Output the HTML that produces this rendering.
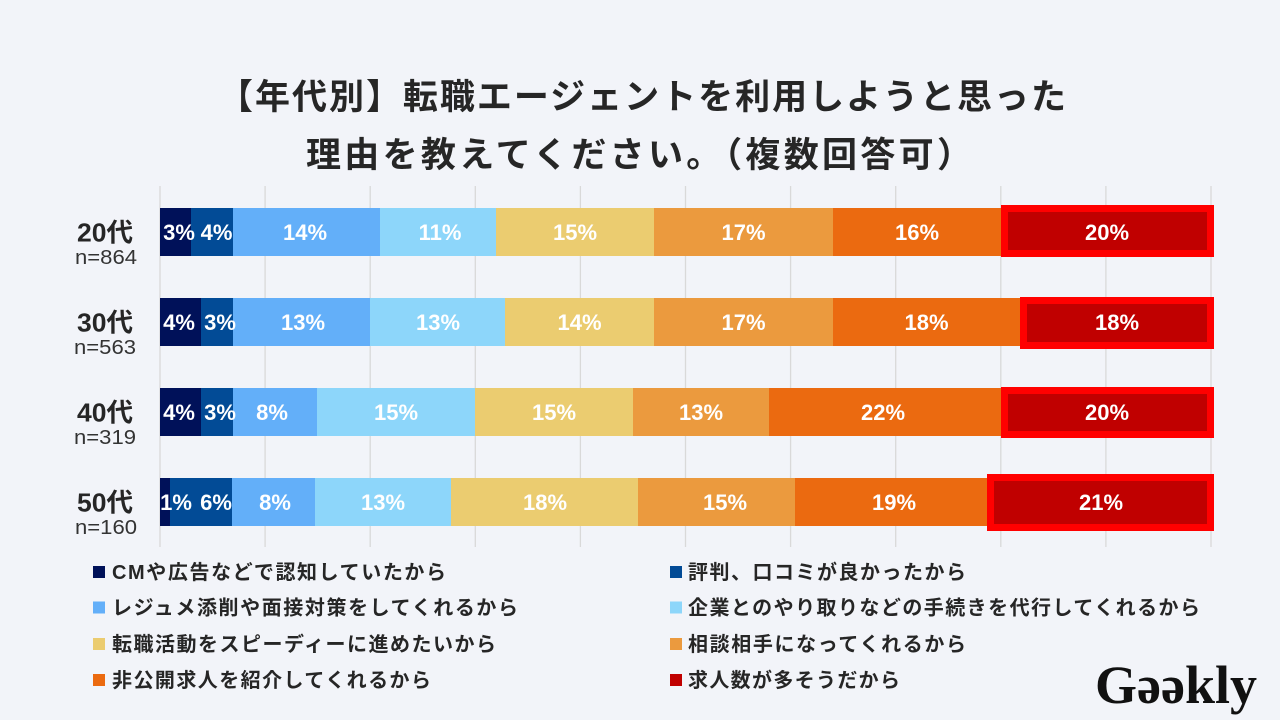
<!DOCTYPE html>
<html>
<head>
<meta charset="utf-8">
<style>
  html,body{margin:0;padding:0;background:#F2F4F9;}
  svg{display:block;}
  .t{font-family:"Liberation Sans","Noto Sans CJK JP",sans-serif;}
</style>
</head>
<body>
<svg width="1280" height="720" viewBox="0 0 1280 720" xmlns="http://www.w3.org/2000/svg" class="t">
  <rect x="0" y="0" width="1280" height="720" fill="#F2F4F9"/>

  <!-- Title -->
  <g fill="#262626" font-weight="bold" font-size="35" font-family="'Liberation Sans','Noto Sans CJK JP',sans-serif">
    <text x="642" y="109" text-anchor="middle" textLength="848" lengthAdjust="spacing">【年代別】転職エージェントを利用しようと思った</text>
    <text x="639" y="167" text-anchor="middle" textLength="666" lengthAdjust="spacing">理由を教えてください。（複数回答可）</text>
  </g>

  <!-- Gridlines -->
  <g stroke="#D9D9D9" stroke-width="1.3">
    <line x1="160" y1="186" x2="160" y2="547"/>
    <line x1="265.1" y1="186" x2="265.1" y2="547"/>
    <line x1="370.2" y1="186" x2="370.2" y2="547"/>
    <line x1="475.3" y1="186" x2="475.3" y2="547"/>
    <line x1="580.4" y1="186" x2="580.4" y2="547"/>
    <line x1="685.5" y1="186" x2="685.5" y2="547"/>
    <line x1="790.6" y1="186" x2="790.6" y2="547"/>
    <line x1="895.7" y1="186" x2="895.7" y2="547"/>
    <line x1="1000.8" y1="186" x2="1000.8" y2="547"/>
    <line x1="1105.9" y1="186" x2="1105.9" y2="547"/>
    <line x1="1211" y1="186" x2="1211" y2="547"/>
  </g>

  <!-- Row 1 (20代) -->
  <g>
    <rect x="160" y="208" width="31" height="48" fill="#001159"/>
    <rect x="191" y="208" width="42" height="48" fill="#024B96"/>
    <rect x="233" y="208" width="147" height="48" fill="#63AFF9"/>
    <rect x="380" y="208" width="116" height="48" fill="#8DD6FA"/>
    <rect x="496" y="208" width="158" height="48" fill="#EBCC70"/>
    <rect x="654" y="208" width="179" height="48" fill="#EB9A3E"/>
    <rect x="833" y="208" width="168" height="48" fill="#EB6A10"/>
    <rect x="1001" y="208" width="210" height="48" fill="#C00000"/>
  </g>
  <!-- Row 2 (30代) -->
  <g>
    <rect x="160" y="298" width="41" height="48" fill="#001159"/>
    <rect x="201" y="298" width="32" height="48" fill="#024B96"/>
    <rect x="233" y="298" width="137" height="48" fill="#63AFF9"/>
    <rect x="370" y="298" width="135" height="48" fill="#8DD6FA"/>
    <rect x="505" y="298" width="149" height="48" fill="#EBCC70"/>
    <rect x="654" y="298" width="179" height="48" fill="#EB9A3E"/>
    <rect x="833" y="298" width="187" height="48" fill="#EB6A10"/>
    <rect x="1020" y="298" width="191" height="48" fill="#C00000"/>
  </g>
  <!-- Row 3 (40代) -->
  <g>
    <rect x="160" y="388" width="41" height="48" fill="#001159"/>
    <rect x="201" y="388" width="32" height="48" fill="#024B96"/>
    <rect x="233" y="388" width="84" height="48" fill="#63AFF9"/>
    <rect x="317" y="388" width="158" height="48" fill="#8DD6FA"/>
    <rect x="475" y="388" width="158" height="48" fill="#EBCC70"/>
    <rect x="633" y="388" width="136" height="48" fill="#EB9A3E"/>
    <rect x="769" y="388" width="232" height="48" fill="#EB6A10"/>
    <rect x="1001" y="388" width="210" height="48" fill="#C00000"/>
  </g>
  <!-- Row 4 (50代) -->
  <g>
    <rect x="160" y="478" width="10" height="48" fill="#001159"/>
    <rect x="170" y="478" width="62" height="48" fill="#024B96"/>
    <rect x="232" y="478" width="83" height="48" fill="#63AFF9"/>
    <rect x="315" y="478" width="136" height="48" fill="#8DD6FA"/>
    <rect x="451" y="478" width="187" height="48" fill="#EBCC70"/>
    <rect x="638" y="478" width="157" height="48" fill="#EB9A3E"/>
    <rect x="795" y="478" width="195" height="48" fill="#EB6A10"/>
    <rect x="990" y="478" width="221" height="48" fill="#C00000"/>
  </g>

  <!-- Red highlight outlines -->
  <g fill="none" stroke="#FF0000" stroke-width="7">
    <rect x="1004.5" y="208.5" width="206" height="45"/>
    <rect x="1023.5" y="300.5" width="187" height="45"/>
    <rect x="1004.5" y="390.5" width="206" height="44"/>
    <rect x="990.5" y="477.5" width="220" height="50"/>
  </g>

  <!-- Value labels -->
  <g fill="#FFFFFF" font-weight="bold" font-size="22" text-anchor="middle">
    <text x="179" y="240">3%</text>
    <text x="216.5" y="240">4%</text>
    <text x="305" y="240">14%</text>
    <text x="440" y="240">11%</text>
    <text x="575" y="240">15%</text>
    <text x="743.5" y="240">17%</text>
    <text x="917" y="240">16%</text>
    <text x="1107" y="240">20%</text>

    <text x="179" y="330">4%</text>
    <text x="220" y="330">3%</text>
    <text x="303" y="330">13%</text>
    <text x="438" y="330">13%</text>
    <text x="579.5" y="330">14%</text>
    <text x="743.5" y="330">17%</text>
    <text x="926.5" y="330">18%</text>
    <text x="1117" y="330">18%</text>

    <text x="179" y="420">4%</text>
    <text x="220" y="420">3%</text>
    <text x="272" y="420">8%</text>
    <text x="396" y="420">15%</text>
    <text x="554" y="420">15%</text>
    <text x="701" y="420">13%</text>
    <text x="883" y="420">22%</text>
    <text x="1107" y="420">20%</text>

    <text x="176" y="510">1%</text>
    <text x="216" y="510">6%</text>
    <text x="275" y="510">8%</text>
    <text x="383" y="510">13%</text>
    <text x="545" y="510">18%</text>
    <text x="725" y="510">15%</text>
    <text x="894" y="510">19%</text>
    <text x="1101" y="510">21%</text>
  </g>

  <!-- Row labels -->
  <g fill="#262626" text-anchor="middle">
    <text x="105" y="241.5" font-size="26" font-weight="bold" textLength="56" lengthAdjust="spacingAndGlyphs">20代</text>
    <text x="106" y="264" font-size="20" fill="#333333" textLength="62" lengthAdjust="spacingAndGlyphs">n=864</text>
    <text x="105" y="331.5" font-size="26" font-weight="bold" textLength="56" lengthAdjust="spacingAndGlyphs">30代</text>
    <text x="105" y="354" font-size="20" fill="#333333" textLength="62" lengthAdjust="spacingAndGlyphs">n=563</text>
    <text x="105" y="421.5" font-size="26" font-weight="bold" textLength="56" lengthAdjust="spacingAndGlyphs">40代</text>
    <text x="105" y="444" font-size="20" fill="#333333" textLength="62" lengthAdjust="spacingAndGlyphs">n=319</text>
    <text x="105" y="511.5" font-size="26" font-weight="bold" textLength="56" lengthAdjust="spacingAndGlyphs">50代</text>
    <text x="106" y="534" font-size="20" fill="#333333" textLength="62" lengthAdjust="spacingAndGlyphs">n=160</text>
  </g>

  <!-- Legend squares -->
  <rect x="93" y="566" width="12" height="12" fill="#001159"/>
  <rect x="93" y="601.5" width="12" height="12" fill="#63AFF9"/>
  <rect x="93" y="638" width="12" height="12" fill="#EBCC70"/>
  <rect x="93" y="674" width="12" height="12" fill="#EB6A10"/>
  <rect x="670" y="566" width="12" height="12" fill="#024B96"/>
  <rect x="670" y="601.5" width="12" height="12" fill="#8DD6FA"/>
  <rect x="670" y="638" width="12" height="12" fill="#EB9A3E"/>
  <rect x="670" y="674" width="12" height="12" fill="#C00000"/>

  <!-- Legend text -->
  <g fill="#262626" font-size="20" font-weight="bold">
    <text x="112" y="579" textLength="334" lengthAdjust="spacing">CMや広告などで認知していたから</text>
    <text x="112" y="614.5" textLength="406" lengthAdjust="spacing">レジュメ添削や面接対策をしてくれるから</text>
    <text x="112" y="651" textLength="384" lengthAdjust="spacing">転職活動をスピーディーに進めたいから</text>
    <text x="112" y="687" textLength="319" lengthAdjust="spacing">非公開求人を紹介してくれるから</text>

    <text x="688" y="579" textLength="278" lengthAdjust="spacing">評判、口コミが良かったから</text>
    <text x="688" y="614.5" textLength="512" lengthAdjust="spacing">企業とのやり取りなどの手続きを代行してくれるから</text>
    <text x="688" y="651" textLength="278" lengthAdjust="spacing">相談相手になってくれるから</text>
    <text x="688" y="687" textLength="212" lengthAdjust="spacing">求人数が多そうだから</text>
  </g>

  <!-- Logo -->
  <g fill="#111111" font-family="'Liberation Serif',serif" font-weight="bold" font-size="54">
    <text x="1095" y="703">G</text>
    <text x="1137" y="703" transform="rotate(180 1149 690.5)">e</text>
    <text x="1161" y="703" transform="rotate(180 1173 690.5)">e</text>
    <text x="1185" y="703">kly</text>
  </g>
</svg>
</body>
</html>
